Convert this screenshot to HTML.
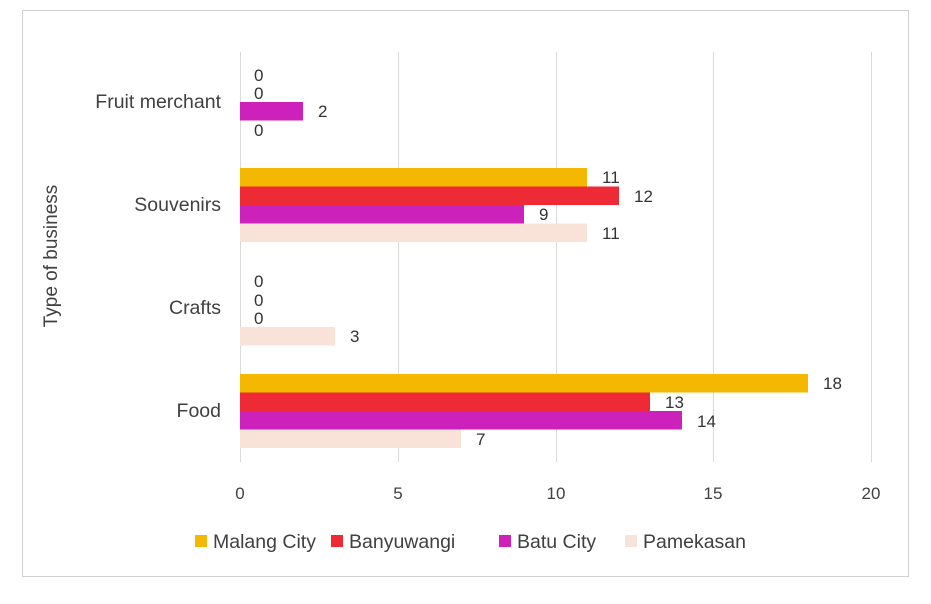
<!DOCTYPE html>
<html><head><style>body{margin:0;background:#fff}</style></head><body>
<svg width="931" height="599" xmlns="http://www.w3.org/2000/svg" font-family="Liberation Sans, sans-serif" font-size="17" fill="#333">
<rect x="0" y="0" width="931" height="599" fill="#fff"/>
<rect x="22.5" y="10.5" width="886" height="566" fill="#fff" stroke="#d0d0d0"/>
<g stroke="#d9d9d9" stroke-width="1">
<line x1="240.5" y1="52" x2="240.5" y2="462"/>
<line x1="398.5" y1="52" x2="398.5" y2="462"/>
<line x1="556.5" y1="52" x2="556.5" y2="462"/>
<line x1="713.5" y1="52" x2="713.5" y2="462"/>
<line x1="871.5" y1="52" x2="871.5" y2="462"/>
</g>
<rect x="240" y="102" width="63" height="18.5" fill="#CC22BB"/>
<rect x="240" y="168" width="347" height="18.5" fill="#F5B800"/>
<rect x="240" y="186.5" width="379" height="18.5" fill="#EE2A36"/>
<rect x="240" y="205" width="284" height="18.5" fill="#CC22BB"/>
<rect x="240" y="223.5" width="347" height="18.5" fill="#F9E3D8"/>
<rect x="240" y="327" width="95" height="18.5" fill="#F9E3D8"/>
<rect x="240" y="374" width="568" height="18.5" fill="#F5B800"/>
<rect x="240" y="392.5" width="410" height="18.5" fill="#EE2A36"/>
<rect x="240" y="411" width="442" height="18.5" fill="#CC22BB"/>
<rect x="240" y="429.5" width="221" height="18.5" fill="#F9E3D8"/>
<g>
<text x="254" y="81">0</text><text x="254" y="99">0</text><text x="318" y="117">2</text><text x="254" y="136">0</text>
<text x="602" y="183">11</text><text x="634" y="202">12</text><text x="539" y="220">9</text><text x="602" y="239">11</text>
<text x="254" y="287">0</text><text x="254" y="306">0</text><text x="254" y="324">0</text><text x="350" y="342">3</text>
<text x="823" y="389">18</text><text x="665" y="408">13</text><text x="697" y="427">14</text><text x="476" y="445">7</text>
</g>
<g font-size="19.5" text-anchor="end" fill="#404040">
<text x="221" y="108">Fruit merchant</text>
<text x="221" y="211">Souvenirs</text>
<text x="221" y="314">Crafts</text>
<text x="221" y="417">Food</text>
</g>
<text transform="translate(57,256) rotate(-90)" font-size="19" text-anchor="middle" fill="#404040">Type of business</text>
<g text-anchor="middle" fill="#404040">
<text x="240" y="499">0</text><text x="398" y="499">5</text><text x="556" y="499">10</text><text x="713" y="499">15</text><text x="871" y="499">20</text>
</g>
<g font-size="19.5" fill="#404040">
<rect x="195" y="535" width="12" height="12" fill="#F5B800"/><text x="213" y="548">Malang City</text>
<rect x="331" y="535" width="12" height="12" fill="#EE2A36"/><text x="349" y="548">Banyuwangi</text>
<rect x="499" y="535" width="12" height="12" fill="#CC22BB"/><text x="517" y="548">Batu City</text>
<rect x="625" y="535" width="12" height="12" fill="#F9E3D8"/><text x="643" y="548">Pamekasan</text>
</g>
</svg>
</body></html>
